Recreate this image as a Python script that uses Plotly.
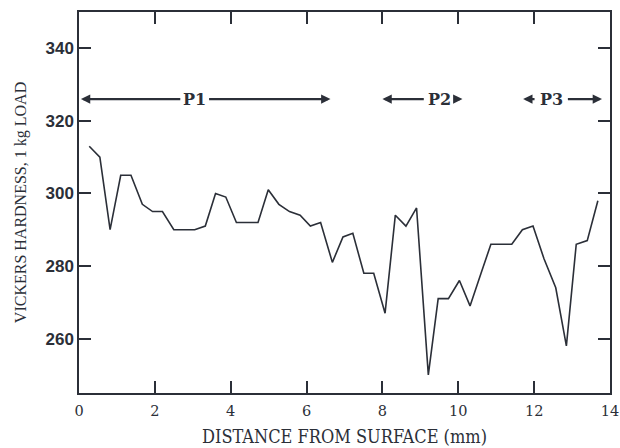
import plotly.graph_objects as go

# Data
distance_mm = [0.27, 0.55, 0.82, 1.10, 1.37, 1.67, 1.94, 2.2, 2.5, 2.78,
               3.05, 3.33, 3.6, 3.87, 4.15, 4.43, 4.72, 4.99, 5.27, 5.55,
               5.83, 6.1, 6.37, 6.68, 6.96, 7.22, 7.51, 7.77, 8.07, 8.34,
               8.62, 8.9, 9.21, 9.47, 9.74, 10.03, 10.31, 10.6, 10.86, 11.14,
               11.41, 11.69, 11.97, 12.26, 12.57, 12.85, 13.11, 13.4, 13.68]
hardness = [313, 310, 290, 305, 305, 297, 295, 295, 290, 290,
            290, 291, 300, 299, 292, 292, 292, 301, 297, 295,
            294, 291, 292, 281, 288, 289, 278, 278, 267, 294,
            291, 296, 250, 271, 271, 276, 269, 278, 286, 286,
            286, 290, 291, 282, 274, 258, 286, 287, 298]

region_names = ["P1", "P2", "P3"]
region_start = [0.05, 8.0, 11.71]
region_end = [6.63, 10.11, 13.79]
region_label_x = [3.05, 9.5, 12.45]
region_label_halfgap = [0.34, 0.37, 0.4]
region_level = 326

x_ticks = [0, 2, 4, 6, 8, 10, 12, 14]
y_ticks = [260, 280, 300, 320, 340]

ink = "#2b2f38"
serif = "Liberation Serif, DejaVu Serif, serif"
dserif = "DejaVu Serif, serif"
cserif = "DejaVu Serif Condensed, DejaVu Serif, serif"

fig = go.Figure()
fig.add_trace(go.Scatter(x=distance_mm, y=hardness, mode="lines",
                         line=dict(color=ink, width=1.6), showlegend=False,
                         hoverinfo="skip"))

annotations = []
for name, s, e, c, g in zip(region_names, region_start, region_end,
                            region_label_x, region_label_halfgap):
    annotations.append(dict(x=c, y=region_level, xref="x", yref="y", text=name,
                            showarrow=False,
                            font=dict(family=dserif, size=16, color=ink, weight="bold")))
    for tail, tip in ((c - g, s), (c + g, e)):
        annotations.append(dict(x=tip, y=region_level, ax=tail, ay=region_level,
                                xref="x", yref="y", axref="x", ayref="y",
                                text="", showarrow=True, arrowhead=2,
                                arrowsize=0.85, arrowwidth=2.2, arrowcolor=ink,
                                standoff=0, startstandoff=0))

fig.update_layout(
    width=620, height=448,
    margin=dict(l=79, r=10, t=12, b=55),
    paper_bgcolor="white", plot_bgcolor="white",
    annotations=annotations,
    xaxis=dict(range=[0, 14], tickvals=x_ticks, ticks="inside", ticklen=12,
               tickwidth=1.5, tickcolor=ink, showgrid=False, zeroline=False,
               showline=True, linecolor=ink, linewidth=1.5, mirror="ticks",
               automargin=False, ticklabelstandoff=4,
               tickfont=dict(family=dserif, size=14.5, color=ink),
               title=dict(text="DISTANCE FROM SURFACE (mm)", standoff=12,
                          font=dict(family=cserif, size=18, color=ink))),
    yaxis=dict(range=[245, 350], tickvals=y_ticks, ticks="inside", ticklen=12,
               tickwidth=1.5, tickcolor=ink, showgrid=False, zeroline=False,
               showline=True, linecolor=ink, linewidth=1.5, mirror="ticks",
               automargin=False,
               tickfont=dict(family="Liberation Sans, Arial, sans-serif", size=17,
                             color=ink, weight="bold"),
               title=dict(text="VICKERS HARDNESS, 1 kg LOAD", standoff=15,
                          font=dict(family=serif, size=16, color=ink))),
)

fig.write_html("out.html")
